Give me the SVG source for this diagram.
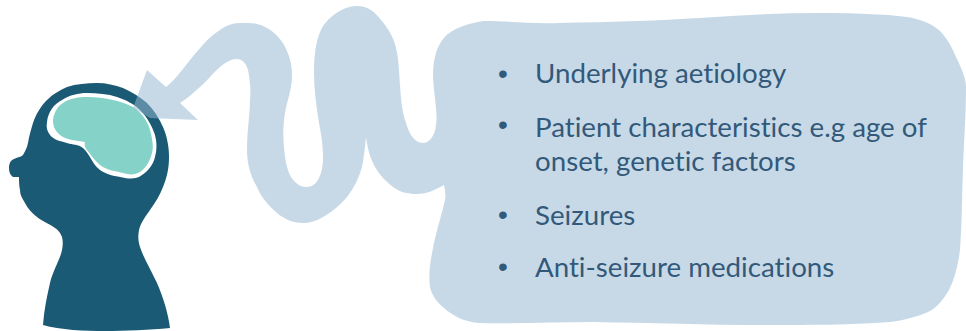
<svg xmlns="http://www.w3.org/2000/svg" width="966" height="331" viewBox="0 0 966 331">
<style>
.t{font-family:"Lato","Liberation Sans",sans-serif;font-size:27.7px;fill:#33597a;font-variant-ligatures:none}
.b{font-family:"Liberation Sans",sans-serif;font-size:28px;fill:#33597a;text-anchor:middle}
</style>
<rect width="966" height="331" fill="#ffffff"/>
<g id="head">
<path fill="#1b5a74" d="M43,325 C44,310 47,296 50,283 C53,270 60,260 62,250 C63,245 63,241 62,237 C60,232 58,230 55,228 C48,223 42,221 37,217 C32,213 28,209 25,203 C22,198 20,195 20,190 C19,186 19,181 19,177 C17,177 15,177 13,177 C10,175 9,172 9,168 C9,163 11,160 14,159 C18,157 21,157 23,155 C25,151 27,148 28,143 C29,136 31,130 33,123 C36,114 41,106 47,100 C53,94 60,90 67,87 C76,84 87,83 97,83 C106,83 115,85 123,88 C132,92 140,97 147,103 C154,110 159,118 163,127 C167,136 169,147 169,157 C169,168 167,177 163,187 C160,195 155,203 150,210 C146,216 141,222 139,230 C138,236 138,241 140,247 C144,259 151,270 157,283 C163,297 168,312 170,328 C150,330 125,331 105,331 C85,331 60,330 43,325 Z"/>
</g>
<g id="brain">
<path fill="#ffffff" d="M47,122 C48,112 54,104 62,100 C70,95 78,93 87,93 C97,93 108,94 117,97 C126,100 134,104 140,110 C147,117 152,126 155,135 C157,142 157,150 155,157 C153,165 148,171 142,175 C137,179 131,179 125,178 C115,176 107,175 100,170 C92,164 90,154 83,148 C78,144 73,145 67,143 C60,141 54,140 50,135 C47,131 46,127 47,122 Z"/>
<path fill="#85d2c8" d="M53,120 C54,112 58,106 63,103 C70,98 79,97 87,97 C96,97 105,98 113,100 C122,102 131,105 137,110 C143,115 148,122 150,130 C152,138 154,146 152,153 C150,161 146,168 140,172 C135,175 129,175 123,173 C115,171 106,170 100,165 C94,160 91,155 87,150 C85,147 84,145 85,142 C81,141 76,141 72,140 C67,139 61,137 57,132 C54,129 53,125 53,120 Z"/>
</g>
<g id="connectors">
<path id="callout" fill="#95b7d1" fill-opacity="0.53" d="M147,70 L166,87 C175,80 182,70 190,60 C200,48 208,38 217,32 C225,26 232,23 240,23 C250,23 257,23 263,26 C273,30 280,38 284,45 C290,56 292,65 292,75 C292,90 287,100 285,113 C283,125 283,137 284,147 C285,160 287,170 291,177 C295,183 300,187 306,187 C312,187 316,184 319,178 C322,172 323,165 323,158 C323,140 320,130 318,117 C316,103 314,88 314,73 C314,55 316,40 321,30 C327,18 342,6 357,6 C368,6 375,12 381,20 C388,28 394,38 396,48 C399,60 399,72 400,85 C401,100 402,112 406,123 C409,133 414,143 423,143 C430,143 435,135 436,125 C438,115 434,95 433,77 C433,60 436,50 441,42 C446,34 455,26 483,21 C510,21 530,24 559,23 C610,22 650,21 699,18 C740,15 780,13 820,13 C850,13 885,14 907,17 C920,19 930,23 939,30 C947,38 952,47 956,57 C961,67 966,78 966,87 C966,115 964,140 963,167 C962,195 962,222 960,250 C958,265 955,278 949,290 C944,298 940,304 932,310 C920,316 905,320 890,322 C850,325 810,325 768,325 C710,325 650,323 594,322 C555,322 515,324 479,323 C465,322 453,316 444,308 C437,302 432,296 430,287 C428,272 431,258 434,243 C437,228 442,214 445,200 C446,195 445,190 444,185 C435,190 427,194 417,194 C407,194 400,192 393,187 C384,180 377,172 373,163 C369,155 367,145 366,137 C365,147 364,157 362,167 C359,178 354,188 347,197 C340,205 331,213 323,217 C316,221 310,223 303,223 C293,223 284,219 277,213 C268,205 261,197 257,187 C250,175 247,163 247,150 C247,130 250,115 250,100 C251,90 250,80 248,70 C246,63 242,59 237,59 C231,59 226,62 220,67 C213,73 207,81 200,87 C194,92 187,99 180,103 L198,120 L150,118 L133,108 Z"/>
</g>
<g id="list">
<text class="b" x="503" y="83">•</text>
<text class="t" x="535" y="83">Underlying aetiology</text>
<text class="b" x="503" y="134">•</text>
<text class="t" x="535" y="137">Patient characteristics e.g age of</text>
<text class="t" x="535" y="171">onset, genetic factors</text>
<text class="b" x="503" y="224">•</text>
<text class="t" x="535" y="225">Seizures</text>
<text class="b" x="503" y="276">•</text>
<text class="t" x="535" y="277">Anti-seizure medications</text>
</g>
</svg>
